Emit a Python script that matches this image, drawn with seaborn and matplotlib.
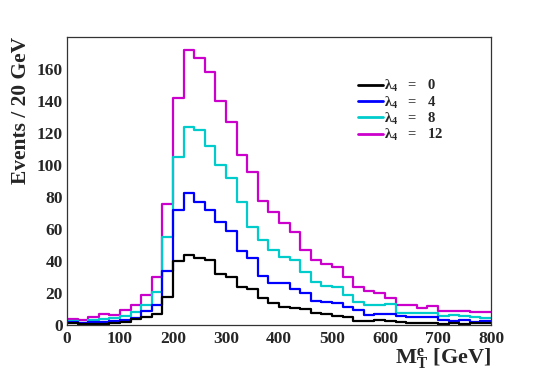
import numpy as np
import pandas as pd
import matplotlib
matplotlib.use("Agg")
import matplotlib.pyplot as plt
from matplotlib.lines import Line2D
from matplotlib.ticker import MultipleLocator, FixedLocator
import seaborn as sns

bin_edges = list(range(0, 820, 20))

black_l0 = [1.5, 0.5, 0.5, 0.7, 1.0, 1.8, 3.5, 5.0, 7.0, 17.3,
            40.2, 43.8, 42.0, 40.6, 32.0, 30.0, 24.0, 22.3, 16.7, 13.5,
            11.5, 10.4, 9.8, 7.7, 6.9, 5.6, 5.2, 2.7, 2.7, 3.1,
            2.7, 2.0, 1.5, 1.5, 1.5, 0.8, 1.0, 0.8, 1.0, 1.0]
blue_l4 = [2.1, 1.0, 1.8, 2.0, 2.7, 3.3, 4.2, 8.5, 12.5, 34.0,
           71.5, 82.3, 77.0, 72.0, 64.3, 58.5, 46.5, 41.7, 30.6, 26.0,
           26.5, 22.3, 19.8, 15.2, 14.6, 14.0, 11.0, 9.4, 6.3, 6.9,
           6.9, 5.6, 5.2, 4.8, 4.8, 3.1, 2.7, 3.0, 2.0, 2.7]
cyan_l8 = [2.7, 1.5, 3.0, 3.8, 4.4, 5.6, 8.3, 12.5, 20.8, 54.8,
           104.6, 123.5, 122.0, 112.0, 100.0, 91.7, 76.5, 61.5, 53.0, 47.0,
           42.3, 40.6, 33.3, 27.0, 24.4, 24.0, 18.8, 14.6, 12.5, 12.5,
           13.3, 7.7, 7.7, 7.7, 7.7, 5.6, 6.0, 5.6, 4.8, 4.2]
magenta_l12 = [3.75, 3.1, 5.2, 6.7, 6.0, 9.4, 12.3, 18.8, 29.8, 75.4,
               142.0, 171.5, 166.7, 158.0, 139.6, 126.5, 106.0, 95.5, 77.7, 70.8,
               64.0, 58.0, 47.0, 40.6, 38.0, 36.0, 30.0, 23.5, 21.5, 19.8,
               17.0, 12.5, 12.5, 10.4, 11.9, 9.0, 9.0, 8.6, 8.3, 8.0]

labels = ["0", "4", "8", "12"]
colors = ["#000000", "#0000ff", "#00cccc", "#cc00cc"]
series = [black_l0, blue_l4, cyan_l8, magenta_l12]
y_ticks = [0, 20, 40, 60, 80, 100, 120, 140, 160]

sns.set_style("white")
plt.rcParams['font.family'] = ['Liberation Serif', 'DejaVu Serif']
plt.rcParams['font.weight'] = 'bold'
plt.rcParams['mathtext.fontset'] = 'custom'
plt.rcParams['mathtext.rm'] = 'Liberation Serif:bold'
plt.rcParams['mathtext.bf'] = 'Liberation Serif:bold'
plt.rcParams['mathtext.it'] = 'Liberation Serif:bold:italic'

fig = plt.figure(figsize=(5.45, 3.71), dpi=100)
ax = fig.add_axes([0.123, 0.124, 0.778, 0.777])

centers = [(a + b) / 2 for a, b in zip(bin_edges[:-1], bin_edges[1:])]
for vals, col in list(zip(series, colors))[::-1]:
    df = pd.DataFrame({"x": centers, "w": vals})
    sns.histplot(data=df, x="x", weights="w", bins=bin_edges, element="step",
                 fill=False, color=col, linewidth=1.6, ax=ax)

ax.set_xlim(0, 800)
ax.set_ylim(0, 180)
ax.xaxis.set_major_locator(MultipleLocator(100))
ax.xaxis.set_minor_locator(MultipleLocator(20))
ax.yaxis.set_major_locator(FixedLocator(y_ticks))
ax.yaxis.set_minor_locator(FixedLocator([v for v in range(0, 180, 5) if v % 20 != 0]))
ax.tick_params(axis='x', which='major', direction='in', length=6, width=0.8, labelsize=12.5, pad=4)
ax.tick_params(axis='x', which='minor', direction='in', length=3, width=0.8)
ax.tick_params(axis='y', which='major', direction='in', length=9, width=0.8, labelsize=12.5, pad=3)
ax.tick_params(axis='y', which='minor', direction='in', length=4.5, width=0.8)
for lab in ax.get_xticklabels() + ax.get_yticklabels():
    lab.set_fontweight('bold')
for s in ax.spines.values():
    s.set_color('#333333')
    s.set_linewidth(0.9)

ax.set_xlabel(r"M$_{\mathrm{T}}^{\mathrm{e}}$ [GeV]", fontsize=16, fontweight='bold', loc='right', labelpad=0)
ax.set_ylabel("Events / 20 GeV", fontsize=15.5, fontweight='bold', loc='top', labelpad=4)

handles = [Line2D([0], [0], color=c, lw=2) for c in colors]
texts = [r"λ$_{4}$   =   " + l for l in labels]
ax.legend(handles, texts, loc='upper left', bbox_to_anchor=(0.662, 0.891), frameon=False,
          handlelength=1.75, handletextpad=0.05, labelspacing=0.0, borderpad=0.2,
          prop={'weight': 'bold', 'size': 10.5})

fig.savefig("out.png", dpi=100)
